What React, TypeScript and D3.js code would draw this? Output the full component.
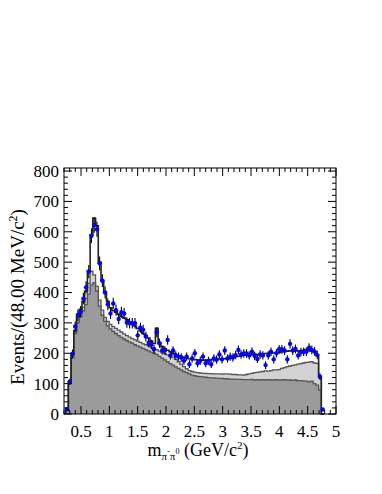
import React from "react";
import * as d3 from "d3";

// bin layout of the histograms (GeV/c^2)
const binStart = 0.229;
const binWidth = 0.048;

// measured events per bin
const dataCounts = [
  16, 106, 198, 288, 326, 337, 380, 417, 469, 587, 622, 608, 496, 439, 400, 361, 331, 364, 342, 313,
  335, 331, 301, 299, 299, 299, 259, 284, 277, 255, 235, 229, 213, 269, 233, 210, 209, 244, 193, 209,
  193, 189, 186, 175, 189, 164, 183, 200, 167, 175, 189, 167, 175, 164, 183, 179, 196, 180, 209, 183,
  189, 186, 194, 211, 196, 199, 199, 193, 205, 191, 181, 196, 193, 161, 193, 205, 180, 200, 213, 213,
  209, 180, 231, 209, 214, 193, 204, 205, 205, 218, 211, 206, 194, 123, 15,
];

// stacked MC: total (open), light-gray stack top, dark-gray component
const totalMC = [
  12, 105, 195, 275, 320, 345, 370, 405, 470, 590, 645, 620, 500, 440, 400, 370, 350, 340, 335, 328,
  322, 316, 310, 303, 296, 290, 282, 274, 265, 258, 250, 240, 232, 282, 232, 222, 215, 210, 205, 200,
  196, 192, 189, 186, 184, 182, 180, 179, 178, 178, 177, 178, 178, 179, 180, 180, 181, 182, 182, 183,
  185, 187, 189, 190, 192, 194, 195, 195, 196, 197, 196, 197, 198, 199, 200, 200, 201, 202, 203, 205,
  206, 207, 208, 208, 209, 208, 208, 210, 212, 211, 208, 206, 195, 123, 0,
];
const lightStack = [
  12, 102, 190, 270, 308, 330, 352, 380, 430, 470, 458, 420, 375, 342, 318, 305, 295, 288, 282, 276,
  270, 264, 258, 253, 248, 244, 240, 236, 231, 228, 224, 220, 216, 212, 207, 203, 199, 195, 191, 187,
  180, 172, 164, 156, 149, 143, 140, 138, 136, 135, 134, 134, 133, 133, 132, 132, 132, 131, 132, 132,
  131, 130, 130, 129, 129, 128, 130, 132, 134, 136, 137, 139, 140, 142, 141, 143, 145, 145, 146, 150,
  153, 156, 158, 160, 162, 164, 166, 168, 170, 171, 172, 168, 167, 120, 0,
];
const darkComp = [
  12, 100, 185, 265, 300, 320, 340, 360, 395, 425, 432, 405, 355, 325, 305, 290, 280, 272, 265, 258,
  252, 247, 242, 237, 233, 228, 224, 220, 216, 212, 208, 204, 200, 196, 190, 184, 178, 172, 166, 161,
  155, 150, 145, 140, 136, 132, 128, 126, 124, 123, 122, 121, 120, 119, 119, 118, 117, 117, 116, 116,
  115, 115, 114, 114, 114, 113, 113, 113, 114, 112, 113, 112, 113, 112, 113, 112, 112, 113, 112, 112,
  113, 112, 112, 111, 112, 110, 110, 109, 108, 106, 108, 100, 95, 79, 0,
];

const yTicks = [0, 100, 200, 300, 400, 500, 600, 700, 800];
const xTicks = [0.5, 1, 1.5, 2, 2.5, 3, 3.5, 4, 4.5, 5];
const xTickLabels = ["0.5", "1", "1.5", "2", "2.5", "3", "3.5", "4", "4.5", "5"];

const W = 382;
const H = 494;
const left = 64;
const right = 336;
const top = 168;
const bottom = 414;

const x = d3.scaleLinear().domain([0.2, 5.0]).range([left, right]);
const y = d3.scaleLinear().domain([0, 810]).range([bottom, top]);

const edges = (vals: number[]) => {
  const pts: [number, number][] = [[binStart, 0]];
  vals.forEach((v, i) => pts.push([binStart + i * binWidth, v]));
  pts.push([binStart + vals.length * binWidth, 0]);
  return pts;
};

const stepLine = d3
  .line<[number, number]>()
  .x((d) => x(d[0]))
  .y((d) => y(d[1]))
  .curve(d3.curveStepAfter);

const stepArea = d3
  .area<[number, number]>()
  .x((d) => x(d[0]))
  .y0(y(0))
  .y1((d) => y(d[1]))
  .curve(d3.curveStepAfter);

const serif = "'Liberation Serif', 'DejaVu Serif', serif";

export default function App() {
  const yMinor = d3.range(0, 801, 20);
  const xMinor = d3.range(2, 51).map((v) => v / 10);
  return (
    <svg
      width={W}
      height={H}
      style={{ position: "absolute", left: 0, top: 0, background: "#fff" }}
      fontFamily={serif}
    >
      <path d={stepArea(edges(lightStack)) || ""} fill="#d2d2d2" />
      <path d={stepLine(edges(lightStack)) || ""} fill="none" stroke="#555" strokeWidth={1.3} />
      <path d={stepArea(edges(darkComp)) || ""} fill="#9b9b9b" />
      <path d={stepLine(edges(darkComp)) || ""} fill="none" stroke="#555" strokeWidth={1.3} />
      <path d={stepLine(edges(totalMC)) || ""} fill="none" stroke="#222" strokeWidth={1.6} />

      {dataCounts.map((v, i) => {
        const cx = x(binStart + (i + 0.5) * binWidth);
        const e = Math.sqrt(v);
        return (
          <g key={i}>
            <line x1={cx} x2={cx} y1={y(v - e)} y2={y(v + e)} stroke="#000" strokeWidth={1.1} />
            <circle cx={cx} cy={y(v)} r={2.2} fill="#0000ff" />
          </g>
        );
      })}

      <rect x={left} y={top} width={right - left} height={bottom - top} fill="none" stroke="#000" strokeWidth={1} />

      {yMinor.map((v) => {
        const major = v % 100 === 0;
        const len = major ? 8 : 4;
        return (
          <g key={"y" + v} stroke="#000" strokeWidth={1}>
            <line x1={left} x2={left + len} y1={y(v)} y2={y(v)} />
            <line x1={right} x2={right - len} y1={y(v)} y2={y(v)} />
          </g>
        );
      })}
      {xMinor.map((v) => {
        const major = Math.abs(v * 2 - Math.round(v * 2)) < 1e-6;
        const len = major ? 8 : 4;
        return (
          <g key={"x" + v} stroke="#000" strokeWidth={1}>
            <line x1={x(v)} x2={x(v)} y1={bottom} y2={bottom - len} />
            <line x1={x(v)} x2={x(v)} y1={top} y2={top + len} />
          </g>
        );
      })}

      {yTicks.map((v) => (
        <text key={"yl" + v} x={left - 5} y={y(v)} dy="0.35em" textAnchor="end" fontSize={17}>
          {v}
        </text>
      ))}
      {xTicks.map((v, i) => (
        <text key={"xl" + v} x={x(v)} y={bottom + 23} textAnchor="middle" fontSize={17}>
          {xTickLabels[i]}
        </text>
      ))}

      <text x={198} y={456} textAnchor="middle" fontSize={18}>
        m
        <tspan fontSize={11} dy={4}>π</tspan>
        <tspan fontSize={8} dy={-6}>-</tspan>
        <tspan fontSize={11} dy={6}>π</tspan>
        <tspan fontSize={8} dy={-6}>0</tspan>
        <tspan dy={2}> (GeV/c</tspan>
        <tspan fontSize={11} dy={-7}>2</tspan>
        <tspan dy={7}>)</tspan>
      </text>

      <text transform="translate(24,297) rotate(-90)" textAnchor="middle" fontSize={19}>
        Events/(48.00 MeV/c
        <tspan fontSize={12} dy={-7}>2</tspan>
        <tspan dy={7}>)</tspan>
      </text>
    </svg>
  );
}
